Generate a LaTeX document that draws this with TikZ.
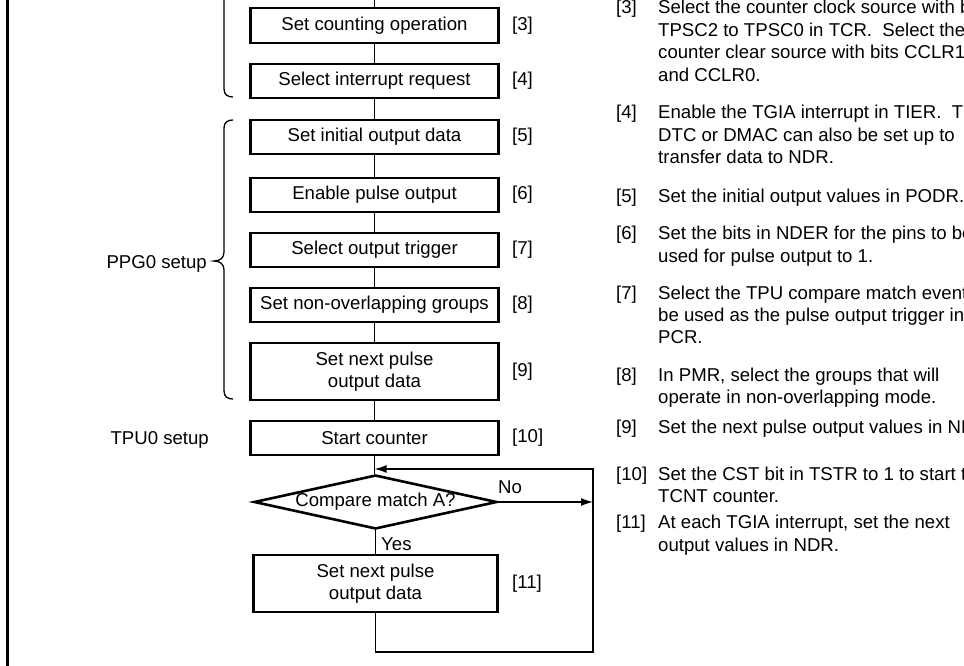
\documentclass[tikz,border=0pt]{standalone}
\usepackage{fontspec}
\setmainfont{Liberation Sans}
\usetikzlibrary{arrows.meta,shapes.geometric}
\begin{document}
\begin{tikzpicture}[x=1pt,y=-1pt,
  every node/.style={font=\fontsize{18.6}{22.4}\selectfont},
  box/.style={draw, line width=2.6pt, minimum width=248pt, minimum height=34pt, inner sep=0pt, align=center},
  conn/.style={line width=1.3pt},
  arr/.style={line width=1.3pt, -{Latex[length=12pt,width=8pt]}},
  brc/.style={line width=1.3pt},
  lbl/.style={anchor=west, inner sep=0pt},
  txt/.style={anchor=base west, inner sep=0pt}]
\useasboundingbox (0,0) rectangle (964,666);
\clip (0,0) rectangle (964,666);

% frame
\draw[line width=3pt] (7,-5) -- (7,671);

% boxes
\node[box, minimum height=35pt] (b3) at (374.5,25.5) {Set counting operation};
\node[box] (b4) at (374.5,81) {Select interrupt request};
\node[box] (b5) at (374.5,137) {Set initial output data};
\node[box] (b6) at (374.5,195) {Enable pulse output};
\node[box] (b7) at (374.5,250) {Select output trigger};
\node[box] (b8) at (374.5,305) {Set non-overlapping groups};
\node[box, minimum height=57pt] (b9) at (374.5,371.5) {Set next pulse\\output data};
\node[box] (b10) at (374.5,438) {Start counter};
\node[draw, diamond, line width=2.6pt, minimum width=243pt, minimum height=54pt, inner sep=0pt] (d) at (375.5,502) {};
\node[inner sep=0pt] (dt) at (d.center) {Compare match A?};
\node[box, minimum width=244pt, minimum height=57pt] (b11) at (375.5,583.5) {Set next pulse\\output data};

% step labels
\node[lbl] (l3) at (512,25.5) {[3]};
\node[lbl] (l4) at (512,81) {[4]};
\node[lbl] (l5) at (512,137) {[5]};
\node[lbl] (l6) at (512,195) {[6]};
\node[lbl] (l7) at (512,250) {[7]};
\node[lbl] (l8) at (512,305) {[8]};
\node[lbl] (l9) at (512,371.5) {[9]};
\node[lbl] (l10) at (512,438) {[10]};
\node[lbl] (l11) at (512,583.5) {[11]};

% connectors
\coordinate (top) at (374.5,-5);
\coordinate (j) at (374.5,469);
\coordinate (r1) at (593,469);
\coordinate (r2) at (593,652);
\coordinate (nr) at (593,502);
\draw[conn] (top) -- (b3.north);
\draw[conn] (b3.south) -- (b4.north);
\draw[conn] (b4.south) -- (b5.north);
\draw[conn] (b5.south) -- (b6.north);
\draw[conn] (b6.south) -- (b7.north);
\draw[conn] (b7.south) -- (b8.north);
\draw[conn] (b8.south) -- (b9.north);
\draw[conn] (b9.south) -- (b10.north);
\draw[conn] (b10.south) -- (b10.south |- d.north);
\draw[conn] (d.south) -- (b11.north);
\draw[arr] (b11.south) -- (b11.south |- r2) -- (r2) -- (r1) -- (j);
\draw[arr] (d.east) -- (nr);
\node[txt] (no) at (498,493) {No};
\node[txt] (yes) at (381,550) {Yes};

% braces
\draw[brc] (224,-5) -- (224,89) .. controls (224,95) and (228,97) .. (233,97);
\draw[brc] (233,120) .. controls (228,120) and (224,122) .. (224,128) -- (224,252)
  .. controls (224,258) and (220,261) .. (214,261)
  .. controls (220,261) and (224,264) .. (224,270) -- (224,391)
  .. controls (224,397) and (228,399) .. (233,399);
\node[anchor=base east, inner sep=0pt] (ppg) at (207,268) {PPG0 setup};
\node[anchor=base east, inner sep=0pt] (tpu) at (209,444) {TPU0 setup};

% notes
\node[txt] (n3) at (616,14) {[3]};
\node[txt] (n3a) at (658,14) {Select the counter clock source with bits};
\node[txt] (n3b) at (658,36.4) {TPSC2 to TPSC0 in TCR.\ \ Select the};
\node[txt] (n3c) at (658,58.8) {counter clear source with bits CCLR1};
\node[txt] (n3d) at (658,81.2) {and CCLR0.};
\node[txt] (n4) at (616,118.7) {[4]};
\node[txt] (n4a) at (658,118.7) {Enable the TGIA interrupt in TIER.\ \ The};
\node[txt] (n4b) at (658,141.1) {DTC or DMAC can also be set up to};
\node[txt] (n4c) at (658,163.5) {transfer data to NDR.};
\node[txt] (n5) at (616,202) {[5]};
\node[txt] (n5a) at (658,202) {Set the initial output values in PODR.};
\node[txt] (n6) at (616,239.6) {[6]};
\node[txt] (n6a) at (658,239.6) {Set the bits in NDER for the pins to be};
\node[txt] (n6b) at (658,262) {used for pulse output to 1.};
\node[txt] (n7) at (616,299) {[7]};
\node[txt] (n7a) at (658,299) {Select the TPU compare match event to};
\node[txt] (n7b) at (658,321.4) {be used as the pulse output trigger in};
\node[txt] (n7c) at (658,343.8) {PCR.};
\node[txt] (n8) at (616,381.5) {[8]};
\node[txt] (n8a) at (658,381.5) {In PMR, select the groups that will};
\node[txt] (n8b) at (658,403.9) {operate in non-overlapping mode.};
\node[txt] (n9) at (616,433.7) {[9]};
\node[txt] (n9a) at (658,433.7) {Set the next pulse output values in NDR.};
\node[txt] (n10) at (616,480.3) {[10]};
\node[txt] (n10a) at (658,480.3) {Set the CST bit in TSTR to 1 to start the};
\node[txt] (n10b) at (658,502.7) {TCNT counter.};
\node[txt] (n11) at (616,528.7) {[11]};
\node[txt] (n11a) at (658,528.7) {At each TGIA interrupt, set the next};
\node[txt] (n11b) at (658,551.1) {output values in NDR.};
\end{tikzpicture}
\end{document}
